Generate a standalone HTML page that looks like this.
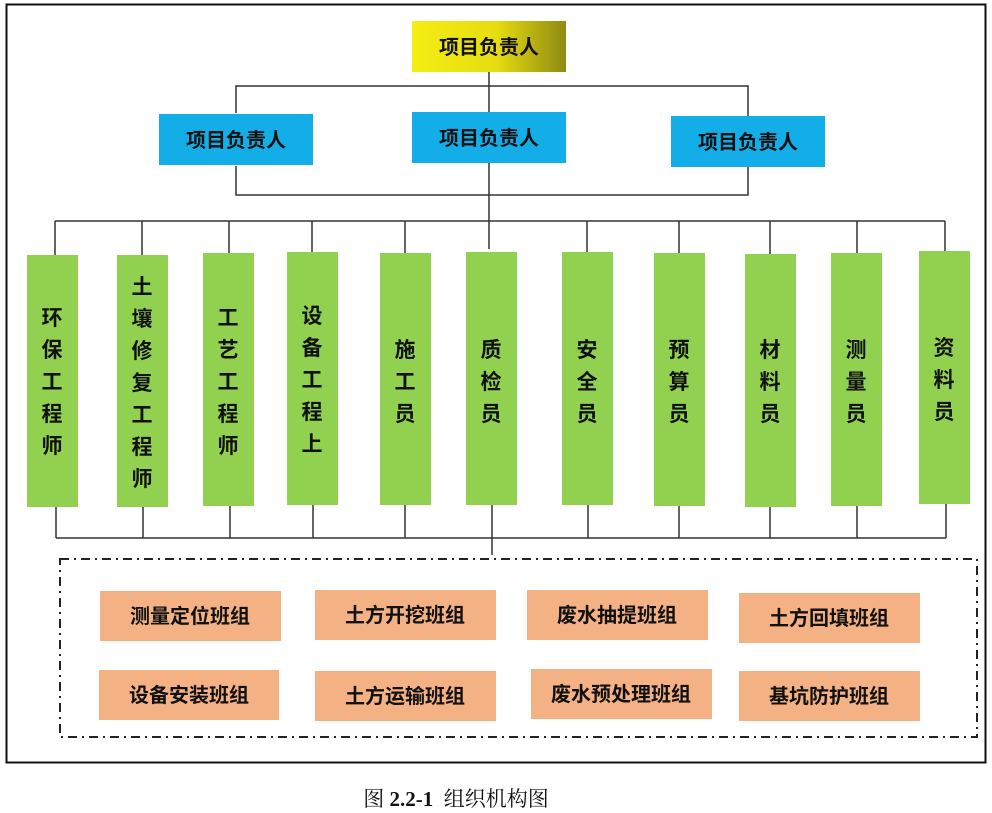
<!DOCTYPE html>
<html><head><meta charset="utf-8"><style>
body{margin:0;background:#fff}
svg{display:block}
.t{font-family:"Liberation Sans","Noto Sans CJK SC",sans-serif;font-weight:bold;font-size:20px;fill:#111}
</style></head><body>
<svg width="992" height="813" viewBox="0 0 992 813">
<defs><linearGradient id="y" x1="0" x2="1"><stop offset="0" stop-color="#f4ee12"/><stop offset="0.55" stop-color="#e6dc10"/><stop offset="1" stop-color="#8f8a12"/></linearGradient></defs>
<rect x="6.5" y="4.5" width="979" height="758" fill="none" stroke="#111" stroke-width="2"/>
<g stroke="#333" stroke-width="1.5" fill="none">
<path d="M489 72V112M236 113V86H748V116M236 166V195H748V167M489 163V249M55 221H945"/>
<path d="M55 221V255M142 221V255M229 221V253M312 221V252M405 221V253M587 221V252M679 221V253M770 221V254M857 221V253M945 221V251"/>
<path d="M56 538H946M56 507V538M143 507V538M230 506V538M313 505V538M405 505V538M492 505V555M588 505V538M679 506V538M770 507V538M857 506V538M946 504V538"/>
</g>
<rect x="60" y="559" width="917" height="178" fill="none" stroke="#222" stroke-width="2" stroke-dasharray="9,5,2,5"/>
<rect x="412" y="21" width="154" height="51" fill="url(#y)"/>
<text class="t" x="489" y="54" text-anchor="middle">项目负责人</text>
<g fill="#13aee8">
<rect x="159" y="114" width="154" height="51"/><rect x="412" y="112" width="154" height="51"/><rect x="671" y="116" width="154" height="51"/>
</g>
<text class="t" x="236" y="147" text-anchor="middle">项目负责人</text>
<text class="t" x="489" y="145" text-anchor="middle">项目负责人</text>
<text class="t" x="748" y="149" text-anchor="middle">项目负责人</text>
<g fill="#92d050">
<rect x="27" y="255" width="51" height="252"/><rect x="117" y="255" width="51" height="252"/><rect x="203" y="253" width="51" height="253"/><rect x="287" y="252" width="51" height="253"/><rect x="380" y="253" width="51" height="252"/><rect x="466" y="252" width="51" height="253"/><rect x="562" y="252" width="51" height="253"/><rect x="654" y="253" width="51" height="253"/><rect x="745" y="254" width="51" height="253"/><rect x="831" y="253" width="51" height="253"/><rect x="919" y="251" width="51" height="253"/>
</g>
<g class="t" text-anchor="middle" style="font-size:21px">
<text x="52" y="325">环</text><text x="52" y="357">保</text><text x="52" y="389">工</text><text x="52" y="421">程</text><text x="52" y="453">师</text>
<text x="142" y="294">土</text><text x="142" y="326">壤</text><text x="142" y="358">修</text><text x="142" y="390">复</text><text x="142" y="422">工</text><text x="142" y="454">程</text><text x="142" y="486">师</text>
<text x="228" y="325">工</text><text x="228" y="357">艺</text><text x="228" y="389">工</text><text x="228" y="421">程</text><text x="228" y="453">师</text>
<text x="312" y="323">设</text><text x="312" y="355">备</text><text x="312" y="387">工</text><text x="312" y="419">程</text><text x="312" y="451">上</text>
<text x="405" y="357">施</text><text x="405" y="389">工</text><text x="405" y="421">员</text>
<text x="491" y="357">质</text><text x="491" y="389">检</text><text x="491" y="421">员</text>
<text x="587" y="357">安</text><text x="587" y="389">全</text><text x="587" y="421">员</text>
<text x="679" y="357">预</text><text x="679" y="389">算</text><text x="679" y="421">员</text>
<text x="770" y="357">材</text><text x="770" y="389">料</text><text x="770" y="421">员</text>
<text x="856" y="357">测</text><text x="856" y="389">量</text><text x="856" y="421">员</text>
<text x="944" y="355">资</text><text x="944" y="387">料</text><text x="944" y="419">员</text>
</g>
<g fill="#f4b183">
<rect x="100" y="591" width="181" height="50"/><rect x="315" y="590" width="181" height="50"/><rect x="527" y="590" width="181" height="50"/><rect x="739" y="593" width="181" height="50"/>
<rect x="99" y="670" width="180" height="50"/><rect x="315" y="671" width="181" height="50"/><rect x="531" y="669" width="181" height="50"/><rect x="739" y="671" width="181" height="50"/>
</g>
<g class="t" text-anchor="middle">
<text x="190" y="623">测量定位班组</text><text x="405" y="622">土方开挖班组</text><text x="617" y="622">废水抽提班组</text><text x="829" y="625">土方回填班组</text>
<text x="189" y="702">设备安装班组</text><text x="405" y="703">土方运输班组</text><text x="621" y="701">废水预处理班组</text><text x="829" y="703">基坑防护班组</text>
</g>
<text x="456" y="806" text-anchor="middle" style="font-family:'Liberation Serif','Noto Serif CJK SC',serif;font-size:21px;fill:#111;white-space:pre">图 <tspan font-weight="bold">2.2-1</tspan>  组织机构图</text>
</svg>
</body></html>
